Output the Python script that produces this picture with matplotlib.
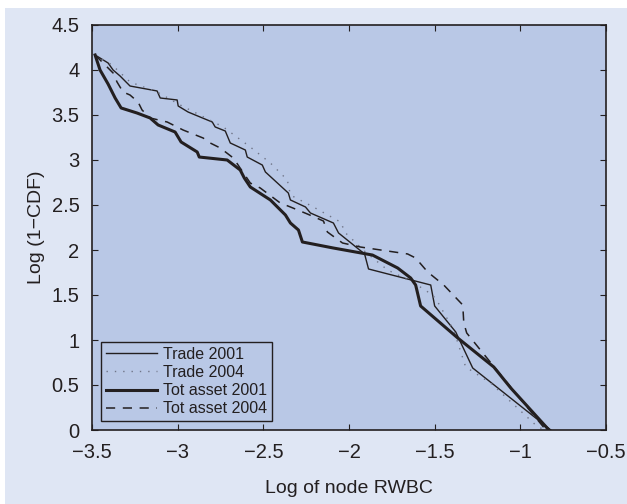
import matplotlib
matplotlib.use('Agg')
import matplotlib.pyplot as plt
from matplotlib.patches import Rectangle

plt.rc('font', family='Liberation Sans')

# traced values
trade01_x = [-3.482, -3.406, -3.377, -3.336, -3.278, -3.120, -3.102, -3.003, -2.997, -2.939,
             -2.798, -2.781, -2.722, -2.693, -2.605, -2.594, -2.506, -2.488, -2.354, -2.342,
             -2.254, -2.225, -2.091, -2.061, -1.909, -1.886, -1.523, -1.500, -1.377, -1.278, -0.822]
trade01_y = [4.167, 4.078, 4.000, 3.933, 3.822, 3.767, 3.689, 3.667, 3.600, 3.533,
             3.422, 3.367, 3.322, 3.189, 3.111, 3.033, 2.944, 2.867, 2.633, 2.556,
             2.478, 2.411, 2.300, 2.189, 1.956, 1.789, 1.611, 1.378, 1.089, 0.689, 0.0]

trade04_x = [-3.482, -3.383, -3.278, -3.120, -2.985, -2.734, -2.576, -2.459, -2.360, -2.342,
             -2.208, -2.050, -2.020, -1.904, -1.775, -1.629, -1.512, -1.482, -1.389, -1.319,
             -1.173, -0.898, -0.851]
trade04_y = [4.167, 4.056, 3.867, 3.756, 3.611, 3.367, 3.144, 2.967, 2.778, 2.611,
             2.478, 2.311, 2.189, 1.978, 1.778, 1.644, 1.500, 1.422, 1.111, 0.700,
             0.522, 0.033, 0.0]

asset01_x = [-3.482, -3.453, -3.406, -3.365, -3.330, -3.237, -3.161, -3.114, -3.015, -2.980,
             -2.886, -2.874, -2.711, -2.635, -2.611, -2.576, -2.459, -2.371, -2.342, -2.295,
             -2.272, -2.091, -1.863, -1.716, -1.640, -1.611, -1.582, -1.365, -1.155, -1.056, -0.833]
asset01_y = [4.167, 4.000, 3.844, 3.689, 3.578, 3.522, 3.467, 3.389, 3.311, 3.200,
             3.089, 3.033, 3.000, 2.889, 2.800, 2.700, 2.556, 2.389, 2.300, 2.222,
             2.089, 2.022, 1.944, 1.800, 1.689, 1.611, 1.378, 1.022, 0.700, 0.467, 0.0]

asset04_x = [-3.482, -3.377, -3.354, -3.319, -3.278, -3.231, -3.208, -3.161, -3.061, -2.968,
             -2.851, -2.810, -2.751, -2.675, -2.576, -2.518, -2.401, -2.342, -2.243, -2.149,
             -2.126, -2.038, -1.933, -1.658, -1.611, -1.541, -1.447, -1.336, -1.330, -1.313,
             -1.219, -0.851]
asset04_y = [4.167, 3.967, 3.867, 3.756, 3.722, 3.644, 3.556, 3.467, 3.422, 3.333,
             3.244, 3.189, 3.133, 3.022, 2.744, 2.689, 2.522, 2.478, 2.400, 2.322,
             2.200, 2.078, 2.033, 1.956, 1.911, 1.756, 1.611, 1.389, 1.189, 1.078,
             0.856, 0.0]

xticks = [-3.5, -3, -2.5, -2, -1.5, -1, -0.5]
xtick_labels = ['\u22123.5', '\u22123', '\u22122.5', '\u22122', '\u22121.5', '\u22121', '\u22120.5']
yticks = [0, 0.5, 1, 1.5, 2, 2.5, 3, 3.5, 4, 4.5]
ytick_labels = ['0', '0.5', '1', '1.5', '2', '2.5', '3', '3.5', '4', '4.5']

f = plt.figure(figsize=(6.27, 5.04), dpi=100, facecolor='white')
f.patches.append(Rectangle((5/627., 0), 1, 1 - 8/504., transform=f.transFigure,
                           facecolor='#dfe6f4', edgecolor='none', zorder=-10))
ax = f.add_axes([92/627., 74/504., 514/627., 405/504.])
ax.set_facecolor('#b9c8e6')

lc = '#231f20'
ax.plot(trade01_x, trade01_y, color=lc, linestyle='-', linewidth=1.0, label='Trade 2001')
ax.plot(trade04_x, trade04_y, color='#707588', linestyle=(0, (1, 5)), linewidth=1.0, label='Trade 2004')
ax.plot(asset01_x, asset01_y, color=lc, linestyle='-', linewidth=2.2, label='Tot asset 2001')
ax.plot(asset04_x, asset04_y, color=lc, linestyle=(0, (6, 5)), linewidth=1.1, label='Tot asset 2004')

ax.set_xlim(-3.5, -0.5)
ax.set_ylim(0, 4.5)
ax.set_xticks(xticks)
ax.set_xticklabels(xtick_labels)
ax.set_yticks(yticks)
ax.set_yticklabels(ytick_labels)
ax.tick_params(direction='in', top=True, right=True, length=4, width=0.8, labelsize=14.5,
               color=lc, labelcolor=lc)
ax.tick_params(axis='y', pad=9)
ax.tick_params(axis='x', pad=9)
for s in ax.spines.values():
    s.set_color(lc)
    s.set_linewidth(1.2)

ax.set_xlabel('Log of node RWBC', fontsize=14, labelpad=13, color=lc)
ax.set_ylabel('Log (1\u2212CDF)', fontsize=14, labelpad=5, color=lc)

leg = ax.legend(loc='lower left', fontsize=11.5, frameon=True, fancybox=False,
                borderaxespad=0.55, handlelength=3.2, labelspacing=0.2, borderpad=0.3,
                handletextpad=0.4)
leg.get_frame().set_facecolor('#b9c8e6')
leg.get_frame().set_edgecolor(lc)
leg.get_frame().set_linewidth(1.0)
leg.get_frame().set_alpha(1)
for t in leg.get_texts():
    t.set_color(lc)

plt.savefig('out.png', dpi=100, facecolor=f.get_facecolor())
